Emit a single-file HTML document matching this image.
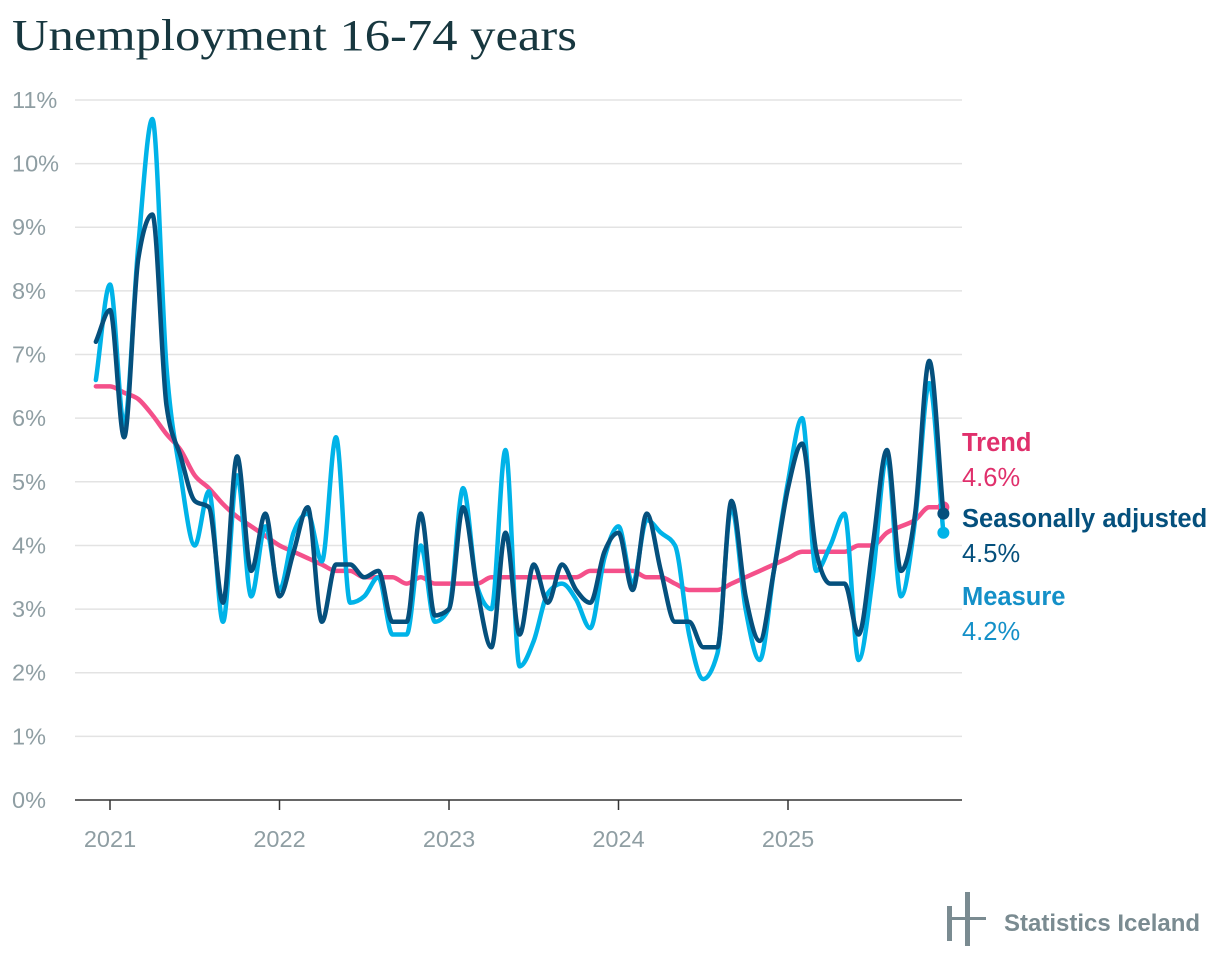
<!DOCTYPE html>
<html><head><meta charset="utf-8">
<style>
html,body{margin:0;padding:0;background:#fff;}
body{width:1220px;height:972px;position:relative;overflow:hidden;font-family:"Liberation Sans",sans-serif;}
#title{position:absolute;left:12px;top:10px;font-family:"Liberation Serif",serif;font-size:44px;color:#17373f;margin:0;font-weight:normal;transform:scaleX(1.15);transform-origin:0 0;white-space:nowrap;}
</style></head>
<body>
<h1 id="title">Unemployment 16-74 years</h1>
<svg id="chart" width="1220" height="972" style="position:absolute;left:0;top:0" xmlns="http://www.w3.org/2000/svg">
<g id="grid"></g>
<g id="yaxis"></g>
<g id="xaxis"></g>
<g id="series"></g>
<g id="legend"></g>
<g>
<rect x="947" y="906" width="5" height="16" fill="#7a8b91"/>
<rect x="965" y="892" width="5" height="54" fill="#7a8b91"/>
<rect x="947" y="917" width="39" height="3" fill="#7a8b91"/>
<rect x="947" y="921" width="5" height="20" fill="#7a8b91"/>
<text x="1004" y="931" font-size="24" fill="#7a8b91" font-weight="bold" font-family="Liberation Sans, sans-serif">Statistics Iceland</text>
</g>
</svg>
<script>
const yTicks = [0,1,2,3,4,5,6,7,8,9,10,11];
const yearLabels = ["2021","2022","2023","2024","2025"];
const startYear = 2020, startMonth = 11; // Dec 2020
const trend = [6.5,6.5,6.4,6.3,6.05,5.75,5.5,5.1,4.9,4.65,4.45,4.3,4.15,4.0,3.9,3.8,3.7,3.6,3.6,3.5,3.5,3.5,3.4,3.5,3.4,3.4,3.4,3.4,3.5,3.5,3.5,3.5,3.5,3.5,3.5,3.6,3.6,3.6,3.6,3.5,3.5,3.4,3.3,3.3,3.3,3.4,3.5,3.6,3.7,3.8,3.9,3.9,3.9,3.9,4.0,4.0,4.2,4.3,4.4,4.6,4.6];
const seasonal = [7.2,7.7,5.7,8.5,9.2,6.2,5.4,4.7,4.6,3.1,5.4,3.6,4.5,3.2,3.9,4.6,2.8,3.7,3.7,3.5,3.6,2.8,2.8,4.5,2.9,3.0,4.6,3.3,2.4,4.2,2.6,3.7,3.1,3.7,3.3,3.1,3.9,4.2,3.3,4.5,3.6,2.8,2.8,2.4,2.4,4.7,3.2,2.5,3.6,4.9,5.6,3.9,3.4,3.4,2.6,4.0,5.5,3.6,4.5,6.9,4.5];
const measure = [6.6,8.1,5.9,8.7,10.7,6.8,5.1,4.0,4.85,2.8,5.1,3.2,4.3,3.3,4.2,4.5,3.75,5.7,3.1,3.2,3.5,2.6,2.6,4.0,2.8,3.0,4.9,3.35,3.0,5.5,2.1,2.5,3.25,3.4,3.15,2.7,3.8,4.3,3.4,4.4,4.2,4.0,2.6,1.9,2.3,4.6,3.0,2.2,3.6,5.0,6.0,3.6,4.0,4.5,2.2,3.5,5.4,3.2,4.4,6.55,4.2];

const NS="http://www.w3.org/2000/svg";
const X0=110, PXY=169.5;
function xScale(i){ const m = startMonth + i; return X0 + (startYear*12 + m - 2021*12)*PXY/12; }
function yScale(v){ return 800 - v*63.64; }
function mk(tag, attrs, parent){ const e=document.createElementNS(NS,tag); for(const k in attrs) e.setAttribute(k,attrs[k]); parent.appendChild(e); return e; }

const grid=document.getElementById('grid'), ya=document.getElementById('yaxis'), xa=document.getElementById('xaxis');
yTicks.forEach(t=>{
  if(t>0){ const l=mk('line',{x1:75,x2:962,y1:yScale(t),y2:yScale(t),stroke:'#e3e3e3','stroke-width':1.5},grid);
  
   }
  const tx=mk('text',{x:12,y:yScale(t)+8,'font-size':23.5,fill:'#8f9ea3','font-family':'Liberation Sans, sans-serif'},ya);
  tx.textContent=t+'%';
  
  
});
const ax=mk('line',{x1:75,x2:962,y1:800,y2:800,stroke:'#333','stroke-width':1.5},xa);


yearLabels.forEach((y,k)=>{
  const x = X0 + k*PXY;
  const tk=mk('line',{x1:x,x2:x,y1:800,y2:810,stroke:'#333','stroke-width':1.5},xa);
  
  
  const tx=mk('text',{x:x,y:847,'font-size':23.5,fill:'#8f9ea3','text-anchor':'middle','font-family':'Liberation Sans, sans-serif'},xa);
  tx.textContent=y;
  
  
});

function monotonePath(pts){
  const n=pts.length; const d=[], m=[];
  for(let i=0;i<n-1;i++){ d.push((pts[i+1][1]-pts[i][1])/(pts[i+1][0]-pts[i][0])); }
  for(let i=0;i<n;i++){
    if(i===0) m.push(d[0]); else if(i===n-1) m.push(d[n-2]);
    else { if(d[i-1]*d[i]<=0) m.push(0); else { const h0=pts[i][0]-pts[i-1][0], h1=pts[i+1][0]-pts[i][0];
      const p=(d[i-1]*h1+d[i]*h0)/(h0+h1); m.push((Math.sign(d[i-1])+Math.sign(d[i]))*Math.min(Math.abs(d[i-1]),Math.abs(d[i]),0.5*Math.abs(p))); } }
  }
  let s='M'+pts[0][0]+','+pts[0][1];
  for(let i=0;i<n-1;i++){ const h=(pts[i+1][0]-pts[i][0])/3;
    s+=' C'+(pts[i][0]+h)+','+(pts[i][1]+m[i]*h)+' '+(pts[i+1][0]-h)+','+(pts[i+1][1]-m[i+1]*h)+' '+pts[i+1][0]+','+pts[i+1][1]; }
  return s;
}
const sg=document.getElementById('series');
function drawSeries(vals,color,name){
  const pts=vals.map((v,i)=>[xScale(i),yScale(v)]);
  const p=mk('path',{d:monotonePath(pts),fill:'none',stroke:color,'stroke-width':4.5,'stroke-linejoin':'round','stroke-linecap':'round'},sg);
  
  
  const last=pts[pts.length-1];
  const c=mk('circle',{cx:last[0],cy:last[1],r:6,fill:color},sg);
  
  
}
drawSeries(trend,'#f4508a','trend');
drawSeries(measure,'#00b3e8','measure');
drawSeries(seasonal,'#05507d','seasonally-adjusted');

const lg=document.getElementById('legend');
const L=[["Trend",trend,"#e0306c",451,"trend"],["Seasonally adjusted",seasonal,"#05507d",527,"seasonally-adjusted"],["Measure",measure,"#1490c8",605,"measure"]];
L.forEach(([lab,vals,col,y,name])=>{
  const t=mk('text',{x:962,y:y,'font-size':25.5,'font-weight':'bold',fill:col,'font-family':'Liberation Sans, sans-serif'},lg);
  t.textContent=lab;
  
  
  const v=mk('text',{x:962,y:y+35,'font-size':25.5,fill:col,'font-family':'Liberation Sans, sans-serif'},lg);
  v.textContent=vals[vals.length-1].toFixed(1)+'%';
  
  
});
</script>
</body></html>
